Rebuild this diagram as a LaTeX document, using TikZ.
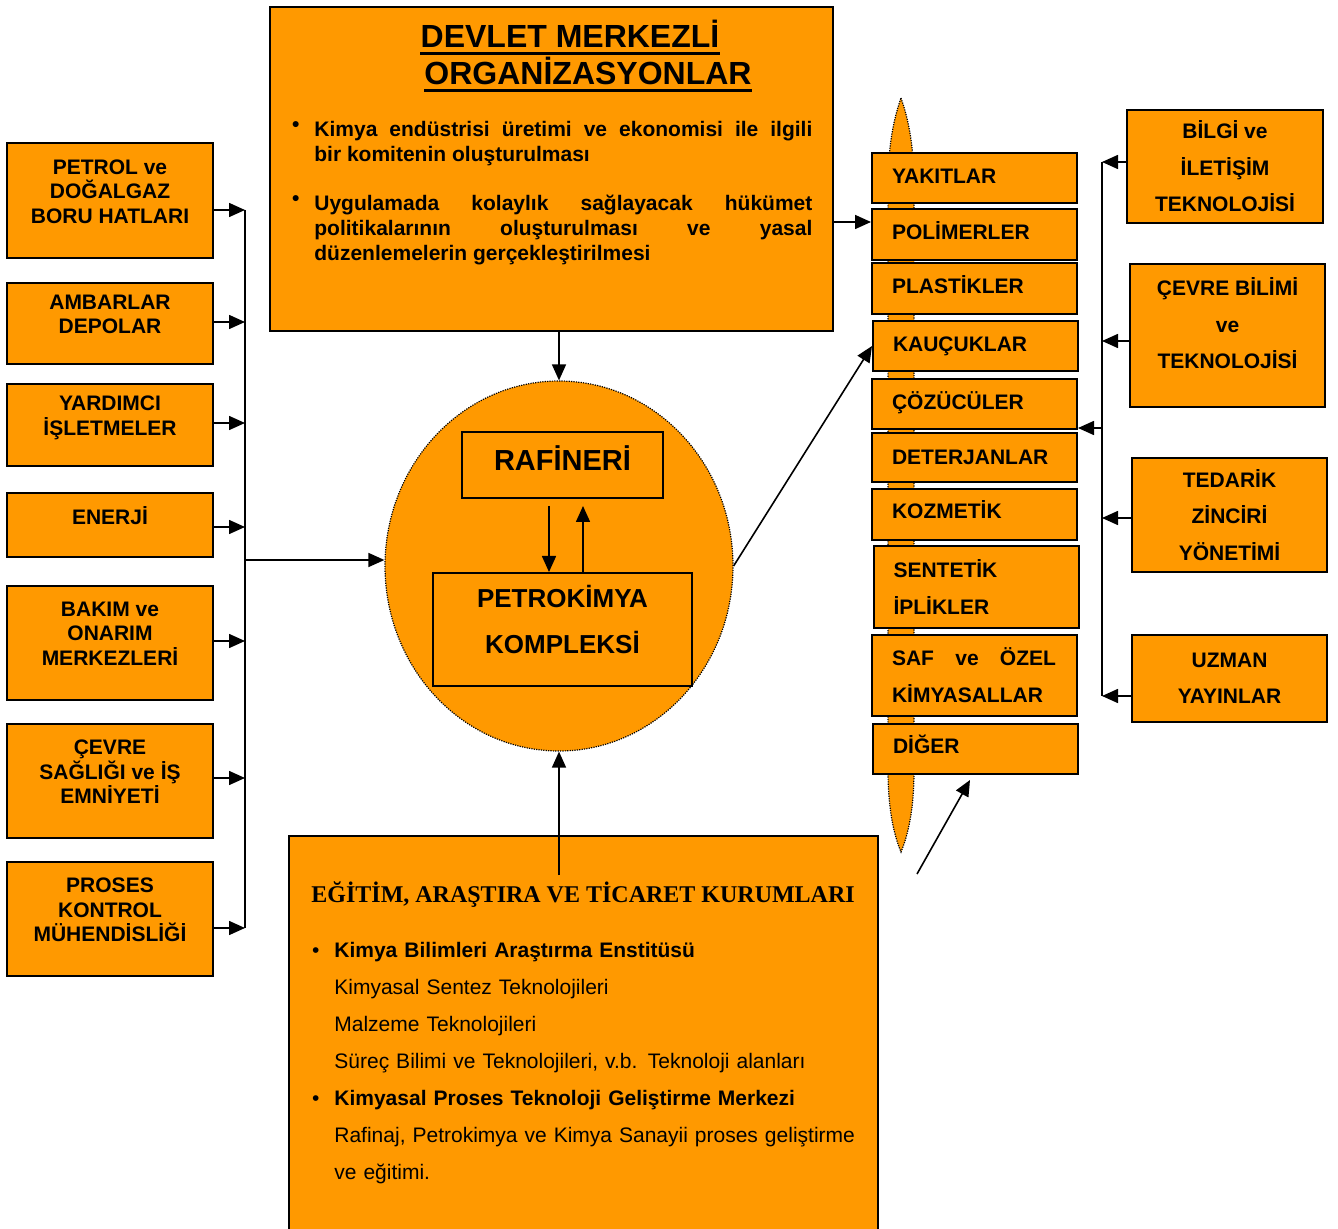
\documentclass[tikz,border=0pt]{standalone}
\usepackage{fontspec}
\setmainfont{Liberation Sans}
\newfontfamily\timesfont{Liberation Serif}
\usetikzlibrary{arrows.meta,shapes.geometric,positioning}
\definecolor{turuncu}{HTML}{FF9900}
\hyphenpenalty=10000
\newcommand{\altbosluk}[1]{\\[#1]\mbox{}}
\newcommand{\madde}[1]{\leavevmode\llap{#1\textbullet\hspace{7.5pt}}}
\tikzset{
  kutu/.style={
    draw,
    fill=turuncu,
    line width=1pt,
    inner sep=0pt
  },
  solkutu/.style={
    kutu,
    minimum width=103pt,
    align=center,
    font=\bfseries\fontsize{10.5}{12.25}\selectfont
  },
  liste/.style={
    kutu,
    minimum height=25pt,
    text width=82.5pt,
    inner xsep=10pt,
    align=left,
    font=\bfseries\fontsize{10.5}{18.5}\selectfont
  },
  sagkutu/.style={
    kutu,
    minimum width=97.5pt,
    align=center,
    font=\bfseries\fontsize{10.5}{18.25}\selectfont
  },
  baslik/.style={
    anchor=base,
    inner sep=0,
    font=\bfseries\fontsize{16}{18}\selectfont
  },
  ok/.style={
    line width=0.8pt,
    -{Triangle[length=8pt,width=7pt]}
  },
  hat/.style={
    line width=0.8pt
  },
  noktali/.style={
    line width=0.6pt,
    dash pattern=on 0.6pt off 0.6pt
  },
}
\begin{document}
\begin{tikzpicture}[x=0.5pt,y=-0.5pt]
\useasboundingbox (0,0) rectangle (1338,1229);
% devlet merkezli organizasyonlar
\node[kutu,minimum width=281.5pt,minimum height=162pt] (devlet) at (551.5,169) {};
\node[baslik] (baslik1) at (570,48) {DEVLET MERKEZLİ};
\node[baslik] (baslik2) at (588,85) {ORGANİZASYONLAR};
\foreach \b in {baslik1,baslik2}{
  \draw[line width=1.3pt] ([yshift=-2.8pt]\b.base west) -- ([yshift=-2.8pt]\b.base east);
}
\node[anchor=base west,inner sep=0,text width=249pt,align=justify,font=\bfseries\fontsize{10.5}{12.5}\selectfont] (maddeler) at (314,137)
  {\madde{\raisebox{2.5pt}}Kimya endüstrisi üretimi ve ekonomisi ile ilgili\linebreak bir komitenin oluşturulması\par\vspace{12pt}%
   \madde{\raisebox{2.5pt}}Uygulamada kolaylık sağlayacak hükümet\linebreak politikalarının oluşturulması ve yasal\linebreak düzenlemelerin gerçekleştirilmesi};
% sol kutular
\node[solkutu,minimum height=57.5pt] (petrol) at (110,200.5) {PETROL ve\\DOĞALGAZ\\BORU HATLARI\altbosluk{-3pt}};
\node[solkutu,minimum height=40.5pt] (ambar) at (110,323.5) {AMBARLAR\\DEPOLAR\altbosluk{-3pt}};
\node[solkutu,minimum height=41pt] (yardimci) at (110,425) {YARDIMCI\\İŞLETMELER\altbosluk{-3pt}};
\node[solkutu,minimum height=32pt] (enerji) at (110,525) {ENERJİ\altbosluk{-3pt}};
\node[solkutu,minimum height=57pt] (bakim) at (110,643) {BAKIM ve\\ONARIM\\MERKEZLERİ\altbosluk{-3pt}};
\node[solkutu,minimum height=57pt] (cevre) at (110,781) {ÇEVRE\\SAĞLIĞI ve İŞ\\EMNİYETİ\altbosluk{-3pt}};
\node[solkutu,minimum height=57pt] (proses) at (110,919) {PROSES\\KONTROL\\MÜHENDİSLİĞİ\altbosluk{-3pt}};
\coordinate (sol1) at (245,210);
\coordinate (sol2) at (245,322);
\coordinate (sol3) at (245,423);
\coordinate (sol4) at (245,527);
\coordinate (sol5) at (245,641);
\coordinate (sol6) at (245,778);
\coordinate (sol7) at (245,928);
\coordinate (solorta) at (245,560);
\draw[hat] (sol1) -- (sol7);
\foreach \k/\i in {petrol/1,ambar/2,yardimci/3,enerji/4,bakim/5,cevre/6,proses/7}{
  \draw[ok] (\k.east |- sol\i) -- (sol\i);
}
% petrokimya kompleksi
\node[ellipse,draw,fill=turuncu,noktali,minimum width=174pt,minimum height=185pt,inner sep=0] (cember) at (559,566) {};
\node[kutu,minimum width=100.5pt,minimum height=33pt,align=center,font=\bfseries\fontsize{14.5}{17}\selectfont] (rafineri) at (562.5,465) {RAFİNERİ\altbosluk{-10pt}};
\node[kutu,minimum width=129.5pt,minimum height=56.5pt,align=center,font=\bfseries\fontsize{13}{23}\selectfont] (petrokimya) at (562.5,629.5) {PETROKİMYA\\KOMPLEKSİ\altbosluk{-12.5pt}};
\draw[ok] ([shift={(-13.5,7)}]rafineri.south) -- ([xshift=-6.75pt]rafineri.south |- petrokimya.north);
\draw[ok] ([xshift=10.25pt]rafineri.south |- petrokimya.north) -- ([shift={(20.5,7)}]rafineri.south);
\draw[ok] (solorta) -- (cember.west |- solorta);
\draw[ok] (devlet.south -| cember.north) -- (cember.north);
% urunler
\draw[noktali,fill=turuncu] (901,98) .. controls (908,118) and (914,145) .. (914,185) -- (914,770)
  .. controls (914,810) and (908,835) .. (901,852) .. controls (894,835) and (888,810) .. (888,770)
  -- (888,185) .. controls (888,145) and (894,118) .. cycle;
\node[liste] (yakit) at (974.5,178) {YAKITLAR\altbosluk{-16.5pt}};
\node[liste,minimum height=25.5pt] (polimer) at (974.5,234.5) {POLİMERLER\altbosluk{-15pt}};
\node[liste,minimum height=25.5pt] (plastik) at (974.5,288.5) {PLASTİKLER\altbosluk{-15pt}};
\node[liste] (kaucuk) at (975.5,346) {KAUÇUKLAR};
\node[liste] (cozucu) at (974.5,404) {ÇÖZÜCÜLER\altbosluk{-15pt}};
\node[liste,minimum height=24.5pt] (deterjan) at (974.5,457.5) {DETERJANLAR};
\node[liste,minimum height=25.5pt] (kozmetik) at (974.5,514.5) {KOZMETİK\altbosluk{-14pt}};
\node[liste,minimum height=41pt] (sentetik) at (976,587) {SENTETİK\\İPLİKLER};
\node[liste,minimum height=40.5pt] (saf) at (974.5,675.5) {\hbox to 82pt{SAF\hfill ve\hfill ÖZEL}\\KİMYASALLAR};
\node[liste] (diger) at (975.5,749) {DİĞER\altbosluk{-14pt}};
\coordinate (polimergiris) at ([yshift=6.25pt]polimer.west);
\draw[ok] (devlet.east |- polimergiris) -- (polimergiris);
\draw[ok] (cember.east) -- (kaucuk.west);
\coordinate (serbest) at (917,874);
\draw[ok] (serbest) -- ([shift={(-5.5,5)}]diger.south);
% sag kutular
\node[sagkutu,minimum width=98pt,minimum height=56.5pt] (bilgi) at (1225,166.5) {BİLGİ ve\\İLETİŞİM\\TEKNOLOJİSİ};
\node[sagkutu,minimum height=71.5pt] (cevrebilim) at (1227.5,335.5) {ÇEVRE BİLİMİ\\ve\\TEKNOLOJİSİ\altbosluk{-6pt}};
\node[sagkutu,minimum height=57pt] (tedarik) at (1229.5,515) {TEDARİK\\ZİNCİRİ\\YÖNETİMİ};
\node[sagkutu,minimum height=43.5pt] (uzman) at (1229.5,678.5) {UZMAN\\YAYINLAR};
\coordinate (sag1) at (1102,162);
\coordinate (sag2) at (1102,341);
\coordinate (sag3) at (1102,518);
\coordinate (sag4) at (1102,696);
\coordinate (sagorta) at (1102,428);
\draw[hat] (sag1) -- (sag4);
\foreach \k/\i in {bilgi/1,cevrebilim/2,tedarik/3,uzman/4}{
  \draw[ok] (\k.west |- sag\i) -- (sag\i);
}
\draw[ok] (sagorta) -- (cozucu.east |- sagorta);
% egitim, arastirma ve ticaret kurumlari
\node[kutu,minimum width=294.5pt,minimum height=198pt] (egitim) at (583.5,1034) {};
\node[anchor=base west,inner sep=0,font=\timesfont\bfseries\fontsize{12}{14}\selectfont] (egitimbaslik) at (311,902) {EĞİTİM, ARAŞTIRA VE TİCARET KURUMLARI};
\node[anchor=base west,inner sep=0,text width=280pt,align=left,font=\fontsize{10.5}{18.5}\selectfont] (kurumlar) at (334,957)
  {\madde{}\textbf{Kimya Bilimleri Araştırma Enstitüsü}\\
   Kimyasal Sentez Teknolojileri\\
   Malzeme Teknolojileri\\
   Süreç Bilimi ve Teknolojileri, v.b. Teknoloji alanları\\
   \madde{}\textbf{Kimyasal Proses Teknoloji Geliştirme Merkezi}\\
   Rafinaj, Petrokimya ve Kimya Sanayii proses geliştirme\\
   ve eğitimi.};
\coordinate (egitimust) at (559,875);
\draw[ok] (egitimust) -- (cember.south);
\end{tikzpicture}
\end{document}
